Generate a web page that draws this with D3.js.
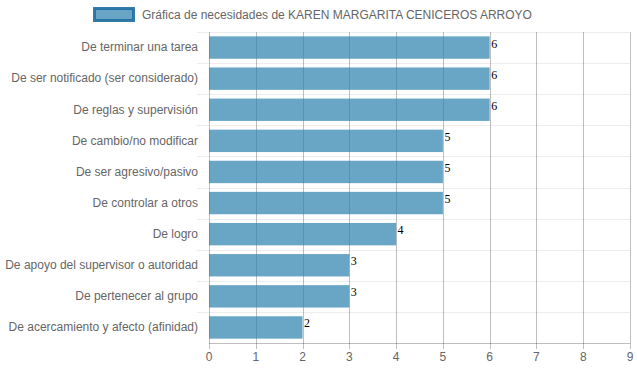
<!DOCTYPE html>
<html>
<head>
<meta charset="utf-8">
<script src="https://cdn.jsdelivr.net/npm/d3@7"></script>
<style>
  body { margin: 0; background: #fff; }
  text { font-family: "Liberation Sans", Arial, Helvetica, sans-serif; }
</style>
</head>
<body>
<div id="chart"></div>
<script>
/*
 * Chart data.
 */
var categories = [
    'De terminar una tarea',
    'De ser notificado (ser considerado)',
    'De reglas y supervisión',
    'De cambio/no modificar',
    'De ser agresivo/pasivo',
    'De controlar a otros',
    'De logro',
    'De apoyo del supervisor o autoridad',
    'De pertenecer al grupo',
    'De acercamiento y afecto (afinidad)'
];
var values = [6, 6, 6, 5, 5, 5, 4, 3, 3, 2];
var xTicks = [0, 1, 2, 3, 4, 5, 6, 7, 8, 9];
var legendLabel = 'Gráfica de necesidades de KAREN MARGARITA CENICEROS ARROYO';

var width = 637, height = 371;
var margin = {top: 32, right: 7, bottom: 28, left: 209};

var svg = d3.select('#chart').append('svg')
    .attr('width', width)
    .attr('height', height);

/*
 * Scales.
 */
var x = d3.scaleLinear()
    .domain([0, 9])
    .range([margin.left, width - margin.right]);

var y = d3.scaleBand()
    .domain(categories)
    .range([margin.top, height - margin.bottom])
    .paddingInner(0)
    .paddingOuter(0);

var barH = y.bandwidth() * 0.72;

/*
 * Horizontal grid lines (band boundaries) with tick marks.
 */
var bounds = categories.map(function(c) { return y(c); });
svg.append('g').selectAll('line')
    .data(bounds)
    .enter().append('line')
    .attr('x1', margin.left - 12)
    .attr('x2', width - margin.right)
    .attr('y1', d => Math.round(d) + 0.5)
    .attr('y2', d => Math.round(d) + 0.5)
    .attr('stroke', 'rgba(0,0,0,0.07)');

/*
 * Vertical grid lines.
 */
svg.append('g').selectAll('line')
    .data(xTicks)
    .enter().append('line')
    .attr('x1', d => Math.round(x(d)) + 0.5)
    .attr('x2', d => Math.round(x(d)) + 0.5)
    .attr('y1', margin.top)
    .attr('y2', height - margin.bottom + 6)
    .attr('stroke', 'rgba(0,0,0,0.25)');

/*
 * Bars.
 */
svg.append('g').selectAll('rect')
    .data(values)
    .enter().append('rect')
    .attr('x', x(0))
    .attr('y', (d, i) => y(categories[i]) + (y.bandwidth() - barH) / 2)
    .attr('width', d => x(d) - x(0))
    .attr('height', barH)
    .attr('fill', 'rgba(42,128,174,0.7)');

/*
 * X axis line.
 */
svg.append('line')
    .attr('x1', margin.left)
    .attr('x2', width - margin.right)
    .attr('y1', height - margin.bottom + 0.5)
    .attr('y2', height - margin.bottom + 0.5)
    .attr('stroke', 'rgba(0,0,0,0.25)');

/*
 * Value labels.
 */
svg.append('g').selectAll('text')
    .data(values)
    .enter().append('text')
    .attr('x', d => x(d) + 1.5)
    .attr('y', (d, i) => y(categories[i]) + y.bandwidth() / 2)
    .attr('font-size', 12)
    .attr('fill', '#000')
    .style('font-family', '"Liberation Serif", "Times New Roman", serif')
    .text(d => d);

/*
 * Category labels.
 */
svg.append('g').selectAll('text')
    .data(categories)
    .enter().append('text')
    .attr('x', margin.left - 11)
    .attr('y', d => y(d) + y.bandwidth() / 2)
    .attr('dy', '0.32em')
    .attr('text-anchor', 'end')
    .attr('font-size', 12)
    .attr('fill', '#666')
    .text(d => d);

/*
 * X tick labels.
 */
svg.append('g').selectAll('text')
    .data(xTicks)
    .enter().append('text')
    .attr('x', d => x(d))
    .attr('y', height - margin.bottom + 14)
    .attr('dy', '0.35em')
    .attr('text-anchor', 'middle')
    .attr('font-size', 12)
    .attr('fill', '#666')
    .text(d => d);

/*
 * Legend.
 */
var legend = svg.append('g');
legend.append('rect')
    .attr('x', 94.5)
    .attr('y', 8.5)
    .attr('width', 39)
    .attr('height', 12)
    .attr('fill', 'rgba(42,128,174,0.7)')
    .attr('stroke', 'rgba(30,110,160,0.9)')
    .attr('stroke-width', 3);
legend.append('text')
    .attr('x', 142)
    .attr('y', 15)
    .attr('dy', '0.35em')
    .attr('font-size', 12)
    .attr('fill', '#666')
    .text(legendLabel);
</script>
</body>
</html>
